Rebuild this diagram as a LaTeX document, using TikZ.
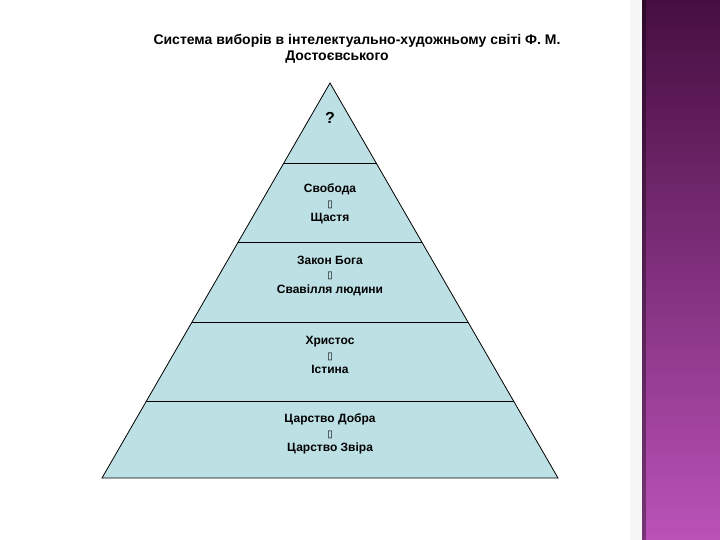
\documentclass[tikz,border=0pt]{standalone}
\usepackage{fontspec}
\setmainfont{Liberation Sans}
\newfontfamily\boxfont{DejaVu Sans}
\usetikzlibrary{calc}
\definecolor{pyrblue}{RGB}{189,224,229}
\definecolor{bandtop}{RGB}{70,14,64}
\definecolor{bandmid}{RGB}{128,48,120}
\definecolor{bandbot}{RGB}{186,82,184}
\newcommand{\alt}{{\boxfont\fontsize{10}{10}\selectfont ▯}}

\begin{document}
\begin{tikzpicture}[x=1pt,y=-1pt,
  level/.style={font=\bfseries\fontsize{12}{14.5}\selectfont,align=center,inner sep=0pt},
  heading/.style={font=\bfseries\fontsize{14}{16}\selectfont,inner sep=0pt},
  sep/.style={draw=black,line width=0.8pt}
]
\useasboundingbox (0,0) rectangle (720,540);
\fill[white] (0,0) rectangle (720,540);
% side band
\fill[gray!6] (630,0) rectangle (642,540);
\shade[top color=bandtop, middle color=bandmid, bottom color=bandbot] (642,0) rectangle (720,540);
\fill[black,opacity=0.35] (642,0) rectangle (646,540);

% title
\node[heading] (title) at (357,41) {Система виборів в інтелектуально-художньому світі Ф. М.};
\node[heading] (title2) at (337,57) {Достоєвського};

% pyramid
\coordinate (apex) at (330,83);
\coordinate (bl) at (102,478);
\coordinate (br) at (558,478);
\filldraw[sep, fill=pyrblue] (apex) -- (br) -- (bl) -- cycle;
\foreach \y in {163,242,322,401}{
  \draw[sep] ($(apex)!{(\y-83)/395}!(bl)$) -- ($(apex)!{(\y-83)/395}!(br)$);
}

\node[font=\bfseries\fontsize{16}{16}\selectfont,inner sep=0pt] (top) at (330,118) {?};
\node[level] (freedom) at (330,204) {Свобода\\ \alt\\ Щастя};
\node[level] (law) at (330,276) {Закон Бога\\ \alt\\ Свавілля людини};
\node[level] (christ) at (330,355) {Христос\\ \alt\\ Істина};
\node[level] (realm) at (330,434) {Царство Добра\\ \alt\\ Царство Звіра};
\end{tikzpicture}
\end{document}
